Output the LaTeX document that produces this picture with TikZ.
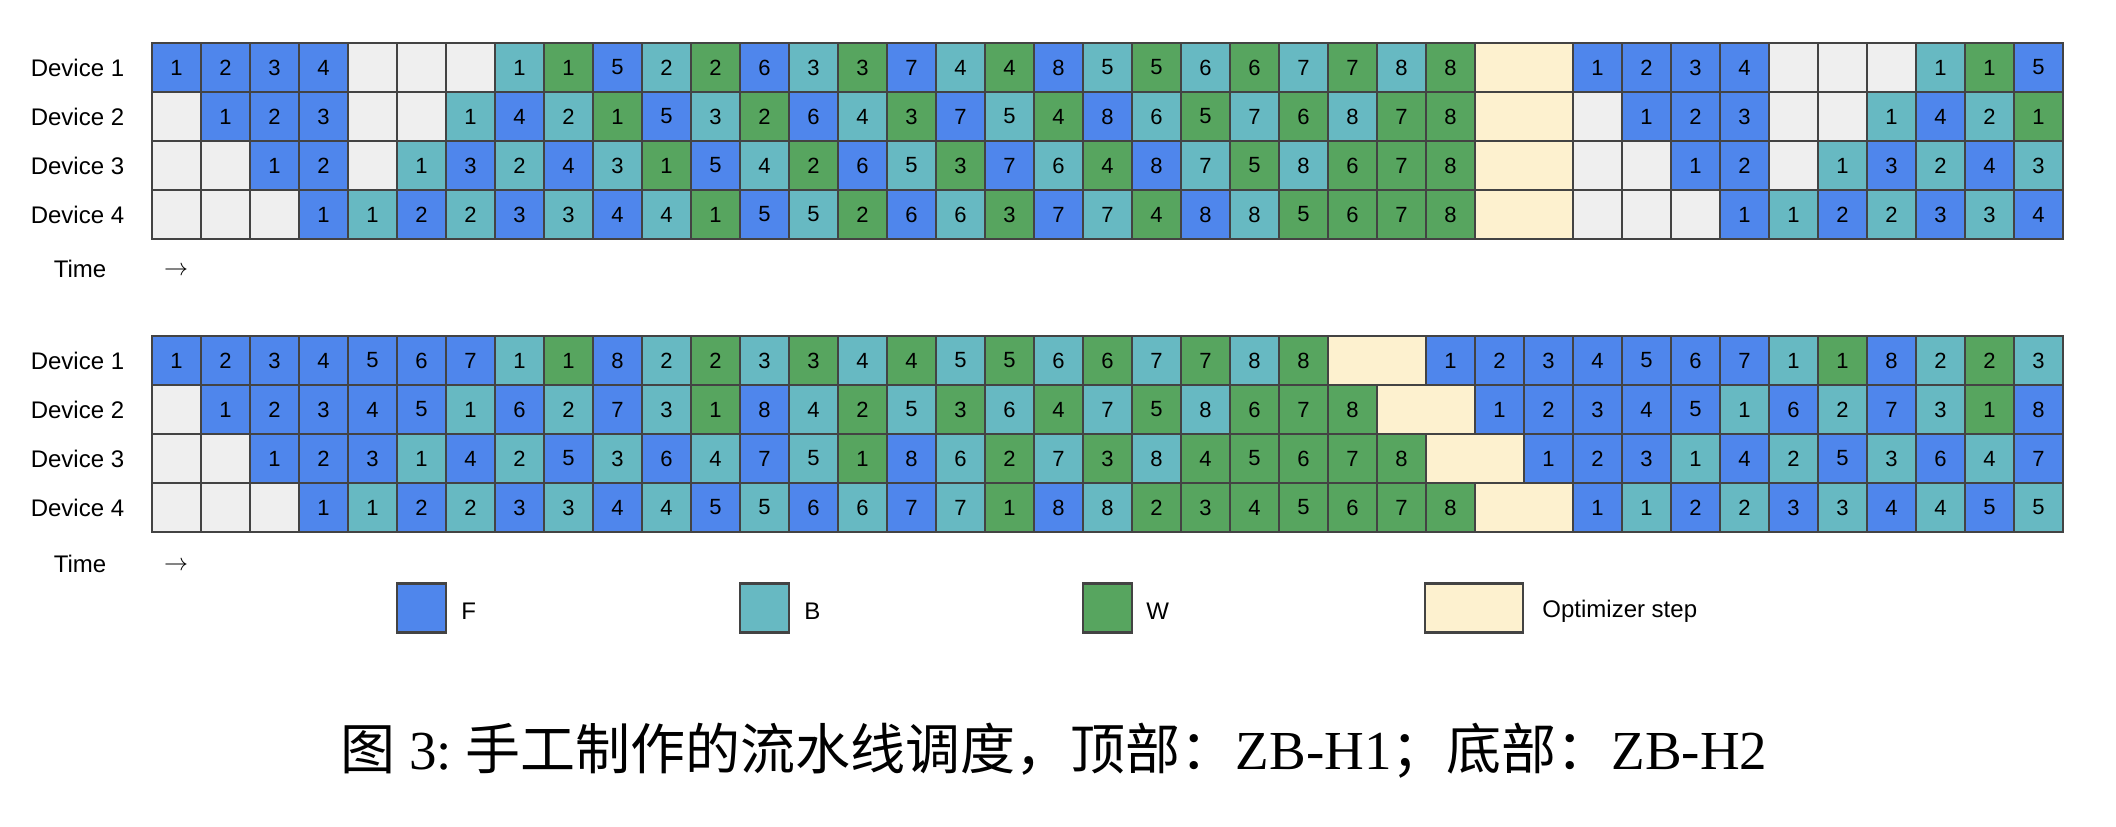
\documentclass[tikz,border=0pt]{standalone}
\usepackage{fontspec}
\setmainfont{Liberation Sans}
\newfontfamily\capfont{Liberation Serif}
\newfontfamily\cjk{Noto Sans CJK SC}
\definecolor{cF}{HTML}{4F86EC}
\definecolor{cB}{HTML}{67B9C2}
\definecolor{cW}{HTML}{57A55F}
\definecolor{cE}{HTML}{EFEFEF}
\definecolor{cO}{HTML}{FDF1CF}
\definecolor{gridc}{HTML}{434343}
\tikzset{
  cellbase/.style={draw=gridc, line width=1.1pt, minimum width=24.5pt, minimum height=24.5pt, inner sep=0pt, font=\fontsize{11}{11}\selectfont},
  cellF/.style={cellbase, fill=cF},
  cellB/.style={cellbase, fill=cB},
  cellW/.style={cellbase, fill=cW},
  cellE/.style={cellbase, fill=cE},
  cellO/.style={cellbase, fill=cO, minimum width=49pt},
  lab/.style={font=\fontsize{12}{12}\selectfont, inner sep=0pt},
}
\def\mkcell#1#2\relax#3{%
  \if#1F\node[cellF] (#3) at (\cx,\cy) {#2};\fi
  \if#1B\node[cellB] (#3) at (\cx,\cy) {#2};\fi
  \if#1W\node[cellW] (#3) at (\cx,\cy) {#2};\fi
  \if#1E\node[cellE] (#3) at (\cx,\cy) {};\fi
  \if#1O\node[cellO] (#3) at (\cx+24.5,\cy) {};\fi
}
\newcommand\cellrow[4]{%
  \foreach \t [count=\c from 0] in {#4} {%
    \pgfmathsetmacro\cx{152+49*\c+24.5}%
    \pgfmathsetmacro\cy{#3+24.5}%
    \expandafter\mkcell\t\relax{#1-#2-\c}%
  }}
\begin{document}
\begin{tikzpicture}[x=0.5pt,y=-0.5pt]
\useasboundingbox[fill=white] (0,0) rectangle (2116,826);
% ---------- top: ZB-H1 ----------
\cellrow{h1}{1}{43}{F1,F2,F3,F4,E,E,E,B1,W1,F5,B2,W2,F6,B3,W3,F7,B4,W4,F8,B5,W5,B6,W6,B7,W7,B8,W8,O,X,F1,F2,F3,F4,E,E,E,B1,W1,F5}
\cellrow{h1}{2}{92}{E,F1,F2,F3,E,E,B1,F4,B2,W1,F5,B3,W2,F6,B4,W3,F7,B5,W4,F8,B6,W5,B7,W6,B8,W7,W8,O,X,E,F1,F2,F3,E,E,B1,F4,B2,W1}
\cellrow{h1}{3}{141}{E,E,F1,F2,E,B1,F3,B2,F4,B3,W1,F5,B4,W2,F6,B5,W3,F7,B6,W4,F8,B7,W5,B8,W6,W7,W8,O,X,E,E,F1,F2,E,B1,F3,B2,F4,B3}
\cellrow{h1}{4}{190}{E,E,E,F1,B1,F2,B2,F3,B3,F4,B4,W1,F5,B5,W2,F6,B6,W3,F7,B7,W4,F8,B8,W5,W6,W7,W8,O,X,E,E,E,F1,B1,F2,B2,F3,B3,F4}
\node[lab] (h1-d1) at (77.5,67.5) {Device 1};
\node[lab] (h1-d2) at (77.5,116.5) {Device 2};
\node[lab] (h1-d3) at (77.5,165.5) {Device 3};
\node[lab] (h1-d4) at (77.5,214.5) {Device 4};
\node[lab] (h1-time) at (80,269) {Time};
\node[lab] (h1-arrow) at (176,271) {$\rightarrow$};
% ---------- bottom: ZB-H2 ----------
\cellrow{h2}{1}{336}{F1,F2,F3,F4,F5,F6,F7,B1,W1,F8,B2,W2,B3,W3,B4,W4,B5,W5,B6,W6,B7,W7,B8,W8,O,X,F1,F2,F3,F4,F5,F6,F7,B1,W1,F8,B2,W2,B3}
\cellrow{h2}{2}{385}{E,F1,F2,F3,F4,F5,B1,F6,B2,F7,B3,W1,F8,B4,W2,B5,W3,B6,W4,B7,W5,B8,W6,W7,W8,O,X,F1,F2,F3,F4,F5,B1,F6,B2,F7,B3,W1,F8}
\cellrow{h2}{3}{434}{E,E,F1,F2,F3,B1,F4,B2,F5,B3,F6,B4,F7,B5,W1,F8,B6,W2,B7,W3,B8,W4,W5,W6,W7,W8,O,X,F1,F2,F3,B1,F4,B2,F5,B3,F6,B4,F7}
\cellrow{h2}{4}{483}{E,E,E,F1,B1,F2,B2,F3,B3,F4,B4,F5,B5,F6,B6,F7,B7,W1,F8,B8,W2,W3,W4,W5,W6,W7,W8,O,X,F1,B1,F2,B2,F3,B3,F4,B4,F5,B5}
\node[lab] (h2-d1) at (77.5,360.5) {Device 1};
\node[lab] (h2-d2) at (77.5,409.5) {Device 2};
\node[lab] (h2-d3) at (77.5,458.5) {Device 3};
\node[lab] (h2-d4) at (77.5,507.5) {Device 4};
\node[lab] (h2-time) at (80,564) {Time};
\node[lab] (h2-arrow) at (176,566) {$\rightarrow$};
% ---------- legend ----------
\node[cellF] (leg-F) at (421.5,608) {};
\node[lab, anchor=west] (legl-F) at (461,611) {F};
\node[cellB] (leg-B) at (764.5,608) {};
\node[lab, anchor=west] (legl-B) at (804,611) {B};
\node[cellW] (leg-W) at (1107.5,608) {};
\node[lab, anchor=west] (legl-W) at (1146,611) {W};
\node[cellO] (leg-O) at (1474,608) {};
\node[lab, anchor=west] (legl-O) at (1542,611) {Optimizer step};
% ---------- caption ----------
\node[inner sep=0pt, font=\fontsize{27.5}{30}\selectfont] (caption) at (1054,751)
  {{\cjk 图}{\capfont\ 3:\ }{\cjk 手工制作的流水线调度，顶部：}{\capfont ZB-H1}{\cjk ；底部：}{\capfont ZB-H2}};
\end{tikzpicture}
\end{document}
